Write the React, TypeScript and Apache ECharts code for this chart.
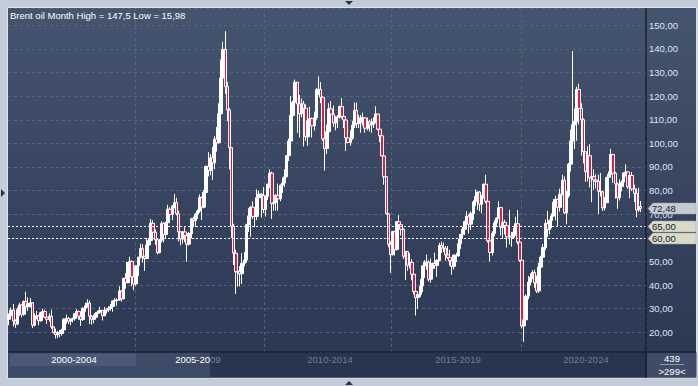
import React, { useEffect, useRef } from "react";
import * as echarts from "echarts";

// Monthly Brent oil candles, Jan 2000 .. Nov 2024 (opens follow the previous month's close)
const firstOpen = 25.5;
const closes = [
  27.1, 29.4, 24.8, 23.5, 29.6, 31.6, 27.6, 33.0, 30.8, 32.2, 32.5, 23.0,
  26.3, 27.0, 24.9, 28.3, 28.8, 26.4, 25.5, 26.8, 22.3, 20.0, 19.0, 19.8,
  19.5, 21.0, 25.6, 25.9, 24.7, 25.5, 25.8, 27.9, 28.8, 26.8, 25.4, 30.2,
  31.2, 32.4, 26.8, 25.5, 26.4, 28.0, 28.5, 29.3, 27.0, 29.1, 29.5, 30.2,
  30.9, 33.3, 33.5, 33.7, 37.5, 34.2, 42.9, 41.0, 49.6, 50.0, 43.5, 40.5,
  48.2, 51.8, 55.4, 52.1, 51.2, 57.0, 58.9, 66.2, 62.4, 59.2, 53.7, 58.9,
  66.1, 61.4, 66.4, 72.1, 69.9, 73.5, 74.9, 70.2, 62.5, 59.5, 62.5, 61.0,
  57.3, 61.8, 68.1, 67.3, 70.0, 71.4, 77.1, 73.0, 79.2, 90.3, 88.5, 93.9,
  91.8, 101.8, 100.3, 112.5, 127.7, 139.8, 124.1, 114.1, 98.2, 65.0, 53.5, 45.6,
  45.9, 44.8, 49.2, 50.6, 65.6, 69.3, 73.0, 69.0, 69.1, 77.0, 78.5, 77.9,
  72.0, 77.6, 82.7, 87.4, 74.5, 75.0, 78.0, 76.5, 82.3, 83.2, 85.9, 94.8,
  101.0, 111.8, 117.4, 125.9, 116.7, 112.5, 116.7, 114.9, 102.8, 109.6, 110.5, 107.4,
  110.9, 122.7, 122.9, 119.5, 101.9, 97.8, 104.9, 114.6, 112.4, 108.7, 111.2, 111.1,
  115.6, 111.4, 109.9, 102.3, 100.4, 102.2, 107.7, 114.0, 108.4, 108.8, 110.8, 110.8,
  106.4, 109.1, 107.8, 108.1, 109.4, 112.4, 106.0, 103.2, 94.7, 85.9, 70.2, 57.3,
  52.9, 62.6, 55.1, 66.8, 65.6, 63.6, 52.2, 54.2, 48.4, 49.6, 44.6, 37.3,
  34.7, 36.0, 39.6, 48.1, 49.7, 49.7, 42.5, 47.0, 49.2, 48.3, 50.5, 56.8,
  55.7, 55.6, 52.8, 51.7, 50.3, 47.9, 52.7, 52.4, 57.5, 61.4, 63.6, 66.9,
  69.1, 65.8, 70.3, 75.2, 77.6, 79.4, 74.2, 77.4, 82.7, 75.5, 58.7, 53.8,
  61.9, 66.3, 68.4, 72.8, 64.5, 66.6, 65.2, 60.4, 60.8, 60.2, 62.4, 66.0,
  58.2, 50.5, 22.7, 25.3, 35.3, 41.2, 43.3, 45.3, 40.9, 37.5, 47.6, 51.8,
  55.9, 66.1, 63.5, 67.3, 69.3, 75.1, 76.3, 72.9, 78.5, 84.4, 70.6, 77.8,
  91.2, 101.0, 107.9, 109.3, 122.8, 114.8, 110.0, 96.5, 88.0, 94.8, 85.4, 85.9,
  84.5, 83.9, 79.8, 79.5, 72.7, 74.9, 85.6, 86.9, 95.3, 87.4, 82.8, 77.0,
  81.7, 83.6, 87.5, 87.9, 81.6, 86.4, 80.7, 78.8, 71.8, 73.2, 72.48,
];
const highs = [
  28.0, 30.5, 32.0, 25.5, 30.5, 32.5, 31.8, 33.5, 37.2, 34.8, 34.5, 32.8,
  28.0, 29.0, 27.5, 28.7, 30.0, 29.5, 26.9, 28.0, 29.5, 22.5, 21.5, 20.5,
  21.0, 21.5, 25.9, 27.5, 26.5, 25.9, 26.3, 28.0, 29.8, 29.2, 27.0, 30.5,
  32.5, 34.0, 33.5, 27.3, 27.5, 28.5, 29.2, 30.8, 29.5, 30.7, 30.2, 31.0,
  32.0, 33.5, 34.5, 34.4, 39.5, 37.8, 43.0, 45.0, 49.7, 52.0, 50.5, 43.8,
  48.5, 52.0, 57.5, 57.3, 52.5, 60.0, 59.5, 68.0, 67.5, 63.5, 59.5, 59.5,
  67.0, 66.5, 66.8, 74.0, 73.0, 73.8, 78.6, 77.0, 71.5, 62.7, 62.9, 64.5,
  61.2, 62.5, 68.5, 69.0, 70.5, 72.0, 78.4, 77.5, 80.2, 90.5, 96.3, 95.5,
  98.5, 103.0, 107.0, 117.0, 135.5, 143.0, 147.5, 126.0, 115.0, 98.5, 66.0, 55.0,
  50.5, 48.0, 53.5, 54.0, 66.0, 72.5, 73.5, 75.5, 72.0, 80.5, 80.0, 79.0,
  81.5, 78.0, 83.0, 89.0, 88.0, 79.5, 78.5, 83.0, 82.6, 85.5, 89.0, 95.0,
  102.0, 120.0, 118.0, 127.0, 126.0, 120.5, 119.0, 118.0, 116.5, 112.0, 115.5, 111.0,
  113.5, 123.5, 128.4, 126.0, 120.0, 103.5, 108.0, 117.0, 117.9, 116.0, 111.5, 112.0,
  116.0, 119.2, 111.5, 110.5, 106.0, 105.5, 109.5, 117.3, 117.3, 112.0, 112.0, 113.0,
  111.0, 111.0, 110.0, 110.5, 111.0, 115.7, 112.5, 106.5, 103.5, 95.0, 86.0, 70.5,
  58.5, 63.0, 63.0, 67.0, 69.6, 66.0, 64.0, 54.5, 54.5, 53.5, 51.0, 44.8,
  38.5, 37.0, 42.5, 48.5, 50.5, 52.9, 50.5, 51.2, 49.5, 53.7, 51.0, 57.9,
  58.4, 58.0, 56.5, 56.6, 54.9, 50.5, 52.9, 53.6, 59.5, 61.7, 64.7, 67.3,
  71.3, 70.0, 71.2, 75.9, 80.5, 79.5, 79.8, 78.2, 83.0, 86.7, 76.6, 62.5,
  62.8, 67.4, 68.7, 75.6, 73.2, 66.8, 67.7, 66.0, 71.9, 62.5, 64.3, 68.9,
  71.8, 59.7, 53.9, 34.9, 36.0, 43.9, 44.9, 46.3, 46.5, 44.0, 49.4, 52.5,
  57.4, 67.7, 71.4, 67.8, 70.4, 76.4, 77.8, 76.5, 80.8, 86.7, 86.0, 79.8,
  91.7, 105.8, 139.1, 114.8, 124.0, 125.2, 117.0, 110.5, 96.6, 98.8, 99.7, 89.0,
  89.1, 86.9, 86.8, 87.5, 79.8, 77.3, 85.8, 88.1, 97.7, 95.6, 88.0, 83.5,
  84.8, 84.3, 87.7, 91.1, 88.0, 87.3, 87.9, 82.5, 80.9, 81.2, 75.6,
];
const lows = [
  23.0, 26.5, 22.5, 21.9, 23.0, 27.0, 26.3, 27.0, 29.5, 29.0, 30.5, 21.8,
  22.5, 25.5, 23.0, 24.5, 26.8, 26.0, 23.5, 24.5, 21.5, 19.5, 17.4, 17.5,
  17.9, 18.5, 20.7, 23.6, 23.5, 23.0, 24.2, 24.9, 27.3, 25.3, 22.7, 24.8,
  28.7, 30.5, 23.5, 23.2, 23.8, 25.8, 27.3, 28.3, 25.0, 26.8, 27.8, 28.6,
  29.2, 28.7, 31.5, 31.2, 33.5, 33.0, 34.0, 38.5, 40.8, 47.5, 39.5, 37.8,
  39.6, 43.9, 51.2, 49.5, 46.0, 51.0, 54.0, 58.5, 60.0, 57.0, 53.0, 53.5,
  58.0, 58.1, 59.5, 66.0, 67.0, 67.5, 72.5, 69.5, 58.5, 56.8, 57.5, 58.2,
  49.9, 56.7, 59.8, 64.5, 64.5, 68.0, 70.5, 67.5, 72.5, 76.5, 86.0, 86.5,
  84.5, 89.0, 96.5, 99.8, 111.0, 122.0, 121.0, 109.5, 89.0, 60.0, 48.5, 36.2,
  39.3, 39.5, 40.5, 48.0, 49.5, 62.5, 60.5, 68.0, 64.5, 67.5, 75.0, 68.5,
  70.5, 69.0, 76.0, 81.0, 68.0, 71.5, 71.5, 71.5, 75.5, 79.0, 81.5, 85.5,
  92.5, 99.0, 108.5, 115.0, 104.5, 102.5, 111.0, 98.7, 101.0, 99.0, 105.0, 102.5,
  105.5, 110.0, 120.5, 117.0, 101.0, 88.5, 95.5, 104.0, 107.5, 107.0, 105.5, 106.5,
  110.5, 110.5, 106.5, 96.8, 100.0, 99.0, 101.5, 106.5, 106.5, 106.5, 104.5, 107.5,
  104.5, 105.5, 105.0, 104.5, 106.5, 108.5, 105.5, 100.5, 94.5, 82.5, 69.8, 56.0,
  45.2, 52.5, 52.5, 54.5, 61.5, 61.0, 51.0, 42.2, 46.0, 47.0, 42.0, 36.0,
  27.1, 30.0, 35.0, 37.0, 43.0, 46.5, 41.5, 41.0, 45.0, 47.5, 43.5, 50.0,
  53.6, 54.0, 50.3, 51.0, 48.2, 44.4, 46.6, 49.7, 52.0, 55.3, 59.6, 61.2,
  66.6, 61.8, 63.3, 67.5, 73.5, 71.9, 71.3, 70.4, 76.6, 74.6, 58.0, 50.0,
  52.5, 60.6, 64.5, 68.0, 61.0, 59.5, 61.4, 55.9, 57.2, 56.2, 59.9, 60.9,
  57.2, 49.8, 21.7, 15.98, 24.5, 34.0, 40.0, 42.5, 38.9, 36.6, 36.7, 47.2,
  50.4, 54.9, 60.3, 61.5, 64.1, 69.0, 67.4, 64.6, 71.1, 78.0, 70.0, 65.7,
  77.0, 88.1, 97.4, 97.6, 101.1, 108.0, 94.8, 91.5, 83.7, 83.9, 81.4, 75.1,
  80.3, 80.9, 70.1, 77.5, 71.3, 71.6, 74.7, 82.3, 85.7, 83.3, 76.6, 72.3,
  75.8, 79.7, 81.6, 86.0, 80.7, 76.8, 79.8, 75.1, 68.7, 71.0, 70.9,
];

const startYear = 2000;
const slotCount = 301; // two empty slots after the last candle
const levelLines = [65, 60];
const periodLabels = ["2000-2004", "2005-2009", "2010-2014", "2015-2019", "2020-2024"];
const gridSplitIndexes = [60, 121, 181, 242];
const titleText = "Brent oil Month High = 147,5 Low = 15,98";
const totalCount = "439";
const visibleCount = ">299<";

const FONT = '"Liberation Sans", Arial, sans-serif';

function fmt(v: number) {
  return v.toFixed(2).replace(".", ",");
}

export default function App() {
  const ref = useRef<HTMLDivElement>(null);

  useEffect(() => {
    if (!ref.current) return;
    const chart = echarts.init(ref.current, undefined, { renderer: "svg" });

    const categories: string[] = [];
    for (let i = 0; i < slotCount; i++) {
      const y = startYear + Math.floor(i / 12);
      const m = (i % 12) + 1;
      categories.push(`${y}-${m < 10 ? "0" + m : m}`);
    }
    const candles = closes.map((c, i) => [
      i === 0 ? firstOpen : closes[i - 1],
      c,
      lows[i],
      highs[i],
    ]);

    const L = 8, T = 8, PR = 646, PB = 352;
    const yMin = 11.658, yMax = 157.326;

    chart.setOption({
      animation: false,
      backgroundColor: "#c3ccd8",
      grid: { left: L, top: T, width: PR - L, height: PB - T, containLabel: false },
      xAxis: {
        type: "category",
        data: categories,
        boundaryGap: true,
        axisLine: { show: false },
        axisTick: { show: false },
        axisLabel: { show: false },
        splitLine: {
          show: true,
          interval: (index: number) => gridSplitIndexes.includes(index),
          lineStyle: { color: "#56647e", type: [3, 3], width: 1 },
        },
      },
      yAxis: {
        type: "value",
        position: "right",
        min: yMin,
        max: yMax,
        splitNumber: 14,
        axisLine: { show: false },
        axisTick: { show: false },
        axisLabel: {
          margin: 3,
          color: "#dfe6f4",
          fontSize: 9.5,
          fontFamily: FONT,
          showMinLabel: false,
          showMaxLabel: false,
          // labels that sit under a level tag are covered by the tag itself
          formatter: (v: number) =>
            Math.abs(v % 10) < 0.001 && !levelLines.some((l) => Math.abs(l - v) < 0.001) ? fmt(v) : "",
        },
        splitLine: { show: true, lineStyle: { color: "#56647e", type: [3, 3], width: 1 } },
      },
      series: [
        {
          type: "candlestick",
          data: candles,
          barWidth: 3,
          itemStyle: {
            color: "#ffffff",
            color0: "#e8173f",
            borderColor: "#ffffff",
            borderColor0: "#ffffff",
            borderWidth: 1,
          },
          markLine: {
            silent: true,
            symbol: ["none", "none"],
            label: { show: false },
            lineStyle: { color: "#f2f2f2", type: [2, 2], width: 1 },
            data: levelLines.map((v) => ({ yAxis: v })),
          },
        },
      ],
    });

    const yp = (v: number) => chart.convertToPixel({ yAxisIndex: 0 }, v) as number;

    const txt = (text: string, x: number, y: number, fill: string, align = "left", z = 30) => ({
      type: "text",
      z,
      style: {
        text,
        x,
        y,
        fill,
        font: `9.5px ${FONT}`,
        align,
        verticalAlign: "middle",
        textAlign: align,
        textVerticalAlign: "middle",
      },
    });

    const tag = (value: number, fill: string) => {
      const y = Math.round(yp(value)) + 0.5;
      return [
        {
          type: "polygon",
          z: 40,
          shape: {
            points: [
              [648, y],
              [653, y - 5.5],
              [696, y - 5.5],
              [696, y + 5.5],
              [653, y + 5.5],
            ],
          },
          style: { fill, stroke: "#9aa1ad", lineWidth: 0.5 },
        },
        txt(fmt(value), 652, y, "#18202e", "left", 41),
      ];
    };

    const cellW = 128;
    const navY = 359.5;
    const selEnd = 210;
    const periodTexts: any[] = [];
    periodLabels.forEach((label, i) => {
      const cx = 10 + cellW * i + cellW / 2;
      if (i === 0) periodTexts.push(txt(label, cx, navY, "#ffffff", "center"));
      else if (i === 1) {
        periodTexts.push(txt(label.slice(0, 7), selEnd, navY, "#ffffff", "right"));
        periodTexts.push(txt(label.slice(7), selEnd, navY, "#77839b", "left"));
      } else periodTexts.push(txt(label, cx, navY, "#6f7b94", "center"));
    });

    const lastClose = closes[closes.length - 1];

    chart.setOption({
      graphic: [
        {
          type: "rect",
          z: -10,
          shape: { x: 7.5, y: 7.5, width: 689, height: 370.5 },
          style: {
            fill: new echarts.graphic.LinearGradient(0, 0, 0, 1, [
              { offset: 0, color: "#45546f" },
              { offset: 1, color: "#2a3652" },
            ]),
            stroke: "#dde3ec",
            lineWidth: 1,
          },
        },
        { type: "rect", z: 10, shape: { x: 8, y: 352.5, width: 638, height: 25 }, style: { fill: "#293450" } },
        { type: "rect", z: 10, shape: { x: 8, y: 352.5, width: selEnd - 8, height: 25 }, style: { fill: "#3d4b67" } },
        { type: "rect", z: 11, shape: { x: 10, y: 353.5, width: 126, height: 12.5 }, style: { fill: "#4b5977" } },
        { type: "rect", z: 10, shape: { x: 646.5, y: 352.5, width: 50, height: 25 }, style: { fill: "#3e4c68" } },
        { type: "line", z: 12, shape: { x1: 8, y1: 352, x2: 696, y2: 352 }, style: { stroke: "#0e131d", lineWidth: 1.2 } },
        { type: "line", z: 12, shape: { x1: 646, y1: 8, x2: 646, y2: 378 }, style: { stroke: "#0e131d", lineWidth: 1.2 } },
        ...periodTexts,
        txt(totalCount, 672, 358, "#ffffff", "center"),
        { type: "line", z: 12, shape: { x1: 660, y1: 364.5, x2: 684, y2: 364.5 }, style: { stroke: "#8f99ad", lineWidth: 1 } },
        txt(visibleCount, 672, 371, "#ffffff", "center"),
        txt(titleText, 10, 15, "#ffffff", "left"),
        ...tag(lastClose, "#c6cbd3"),
        ...levelLines.flatMap((v) => tag(v, "#dbdbc5")),
        { type: "polygon", z: 5, shape: { points: [[345, 1], [353, 1], [349, 5]] }, style: { fill: "#2a3246" } },
        { type: "polygon", z: 5, shape: { points: [[345, 385], [353, 385], [349, 381]] }, style: { fill: "#2a3246" } },
        { type: "polygon", z: 5, shape: { points: [[1, 189], [1, 197], [5, 193]] }, style: { fill: "#2a3246" } },
      ],
    });

    return () => chart.dispose();
  }, []);

  return (
    <div
      ref={ref}
      style={{ position: "fixed", left: 0, top: 0, width: 698, height: 386 }}
    />
  );
}
